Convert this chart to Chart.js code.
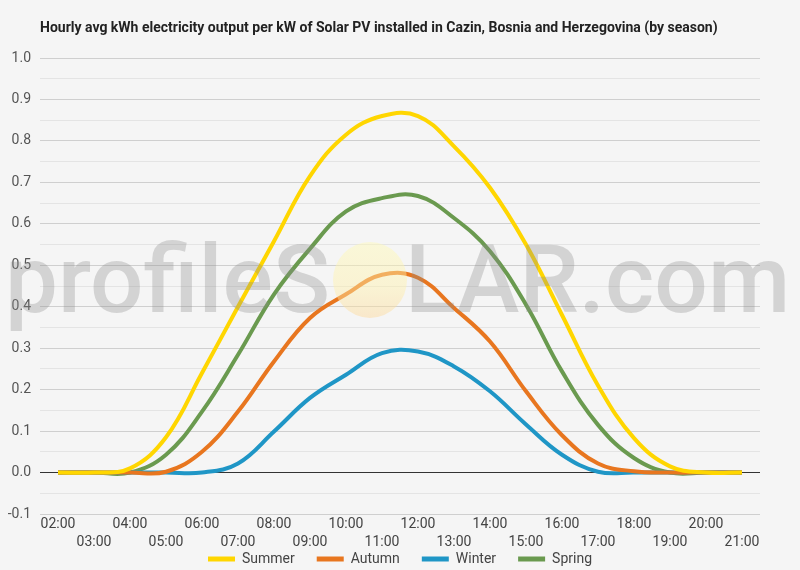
<!DOCTYPE html>
<html>
<head>
<meta charset="utf-8">
<script src="https://cdn.jsdelivr.net/npm/chart.js@4/dist/chart.umd.min.js"></script>
<style>
html,body{margin:0;padding:0;background:#f5f5f5;}
#wrap{width:800px;height:570px;}
</style>
</head>
<body>
<div id="wrap"><canvas id="c" width="800" height="570"></canvas></div>
<script>
const titleText = 'Hourly avg kWh electricity output per kW of Solar PV installed in Cazin, Bosnia and Herzegovina (by season)';
const hours = [2,3,4,5,6,7,8,9,10,11,12,13,14,15,16,17,18,19,20,21];
const seriesNames = ['Summer','Autumn','Winter','Spring'];
const summer = [0,0,0.01,0.085,0.24,0.40,0.558,0.715,0.815,0.86,0.86,0.787,0.687,0.55,0.38,0.21,0.083,0.015,0,0];
const autumn = [0,0,0,0.002,0.05,0.147,0.268,0.373,0.43,0.477,0.47,0.397,0.316,0.196,0.09,0.022,0.003,0,0,0];
const winter = [0,0,0,0,0,0.022,0.099,0.18,0.236,0.288,0.292,0.256,0.196,0.116,0.043,0.002,0,0,0,0];
const spring = [0,0,0,0.043,0.147,0.284,0.43,0.54,0.63,0.662,0.667,0.614,0.534,0.405,0.244,0.115,0.035,0,0,0];
const colors = ['#ffd600','#e8761f','#1f96c6','#6a9a4f'];
const yMin = -0.1, yMax = 1.0, yStep = 0.05;

const seriesValues = [summer, autumn, winter, spring];
const datasets = seriesNames.map((n,i)=>({
  label:n,
  data: hours.map((h,j)=>({x:h,y:seriesValues[i][j]})),
  borderColor: colors[i],
  backgroundColor: colors[i],
  borderWidth: 4,
  pointRadius: 0,
  tension: 0.4,
  fill:false
}));

const bgPlugin = {
  id:'bg',
  beforeDraw(chart){
    const ctx = chart.ctx;
    ctx.save();
    ctx.fillStyle = '#f5f5f5';
    ctx.fillRect(0,0,chart.width,chart.height);
    ctx.restore();
  },
  afterLayout(chart){
    if (chart.legend){ chart.legend.left += 20; chart.legend.right += 20; }
  },
  afterDraw(chart){
    const ctx = chart.ctx;
    ctx.save();
    ctx.fillStyle = '#222';
    ctx.font = 'bold 14px Roboto';
    ctx.textBaseline = 'middle';
    ctx.textAlign = 'left';
    ctx.fillText(titleText, 40, 28);
    ctx.restore();
  }
};

const watermark = {
  id:'wm',
  afterDatasetsDraw(chart){
    const ctx = chart.ctx;
    ctx.save();
    const g = ctx.createLinearGradient(0,243,0,318);
    g.addColorStop(0,'rgba(255,250,180,0.45)');
    g.addColorStop(0.6,'rgba(255,240,170,0.45)');
    g.addColorStop(1,'rgba(253,215,150,0.45)');
    ctx.fillStyle = g;
    ctx.beginPath();
    ctx.ellipse(370,280,37,38,0,0,Math.PI*2);
    ctx.fill();
    ctx.fillStyle = 'rgba(140,140,140,0.32)';
    ctx.textBaseline = 'alphabetic';
    ctx.textAlign = 'left';
    ctx.font = '500 100px Roboto';
    const w1 = ctx.measureText('profileS').width;
    const s1 = 100*325/w1;
    ctx.font = '500 '+s1.toFixed(1)+'px Roboto';
    ctx.fillText('profileS', 5, 312);
    ctx.font = '500 100px Roboto';
    const w2 = ctx.measureText('LAR.com').width;
    const s2 = 100*385/w2;
    ctx.font = '500 '+s2.toFixed(1)+'px Roboto';
    ctx.fillText('LAR.com', 405, 312);
    ctx.restore();
  }
};

function hh(v){ return (v<10?'0':'')+v+':00'; }

new Chart(document.getElementById('c'), {
  type:'line',
  data:{datasets},
  plugins:[bgPlugin, watermark],
  options:{
    responsive:false,
    animation:false,
    layout:{padding:{top:58,right:40,left:0,bottom:-6}},
    plugins:{
      title:{display:false},
      tooltip:{enabled:false},
      legend:{
        display:true,
        position:'bottom',
        labels:{
          boxWidth:27, boxHeight:5, padding:22,
          color:'#444',
          font:{family:'Roboto', size:14},
          generateLabels(chart){
            return chart.data.datasets.map((d,i)=>({text:d.label, fillStyle:d.borderColor, strokeStyle:d.borderColor, lineWidth:0, hidden:false, datasetIndex:i, fontColor:'#444'}));
          }
        }
      }
    },
    scales:{
      x:{
        type:'linear', min:1.5, max:21.5,
        afterBuildTicks(scale){ scale.ticks = hours.map(h=>({value:h})); },
        afterFit(scale){ scale.height = 16; scale._computeLabelArea = function(){ return undefined; }; },
        grid:{display:false, drawTicks:false},
        border:{display:false},
        ticks:{
          autoSkip:false, maxRotation:0, minRotation:0, padding:1,
          color:'#444',
          font:{family:'Roboto', size:14, lineHeight:1.3},
          callback(v){ return (v%2===0) ? hh(v) : ['', hh(v)]; }
        }
      },
      y:{
        min:yMin, max:yMax,
        afterFit(scale){ scale.width = 40; },
        border:{display:false},
        grid:{
          drawTicks:false,
          lineWidth:1,
          color(ctx){
            const v = Math.round(ctx.tick.value*100);
            if (v===0) return '#333';
            if (v%10===0) return '#cfcfcf';
            return '#e4e4e4';
          }
        },
        ticks:{
          stepSize:yStep,
          padding:9,
          color:'#555',
          font:{family:'Roboto', size:14},
          callback(v){ const r=Math.round(v*100); return (r%10===0)?(r/100).toFixed(1):''; }
        }
      }
    }
  }
});
</script>
</body>
</html>
